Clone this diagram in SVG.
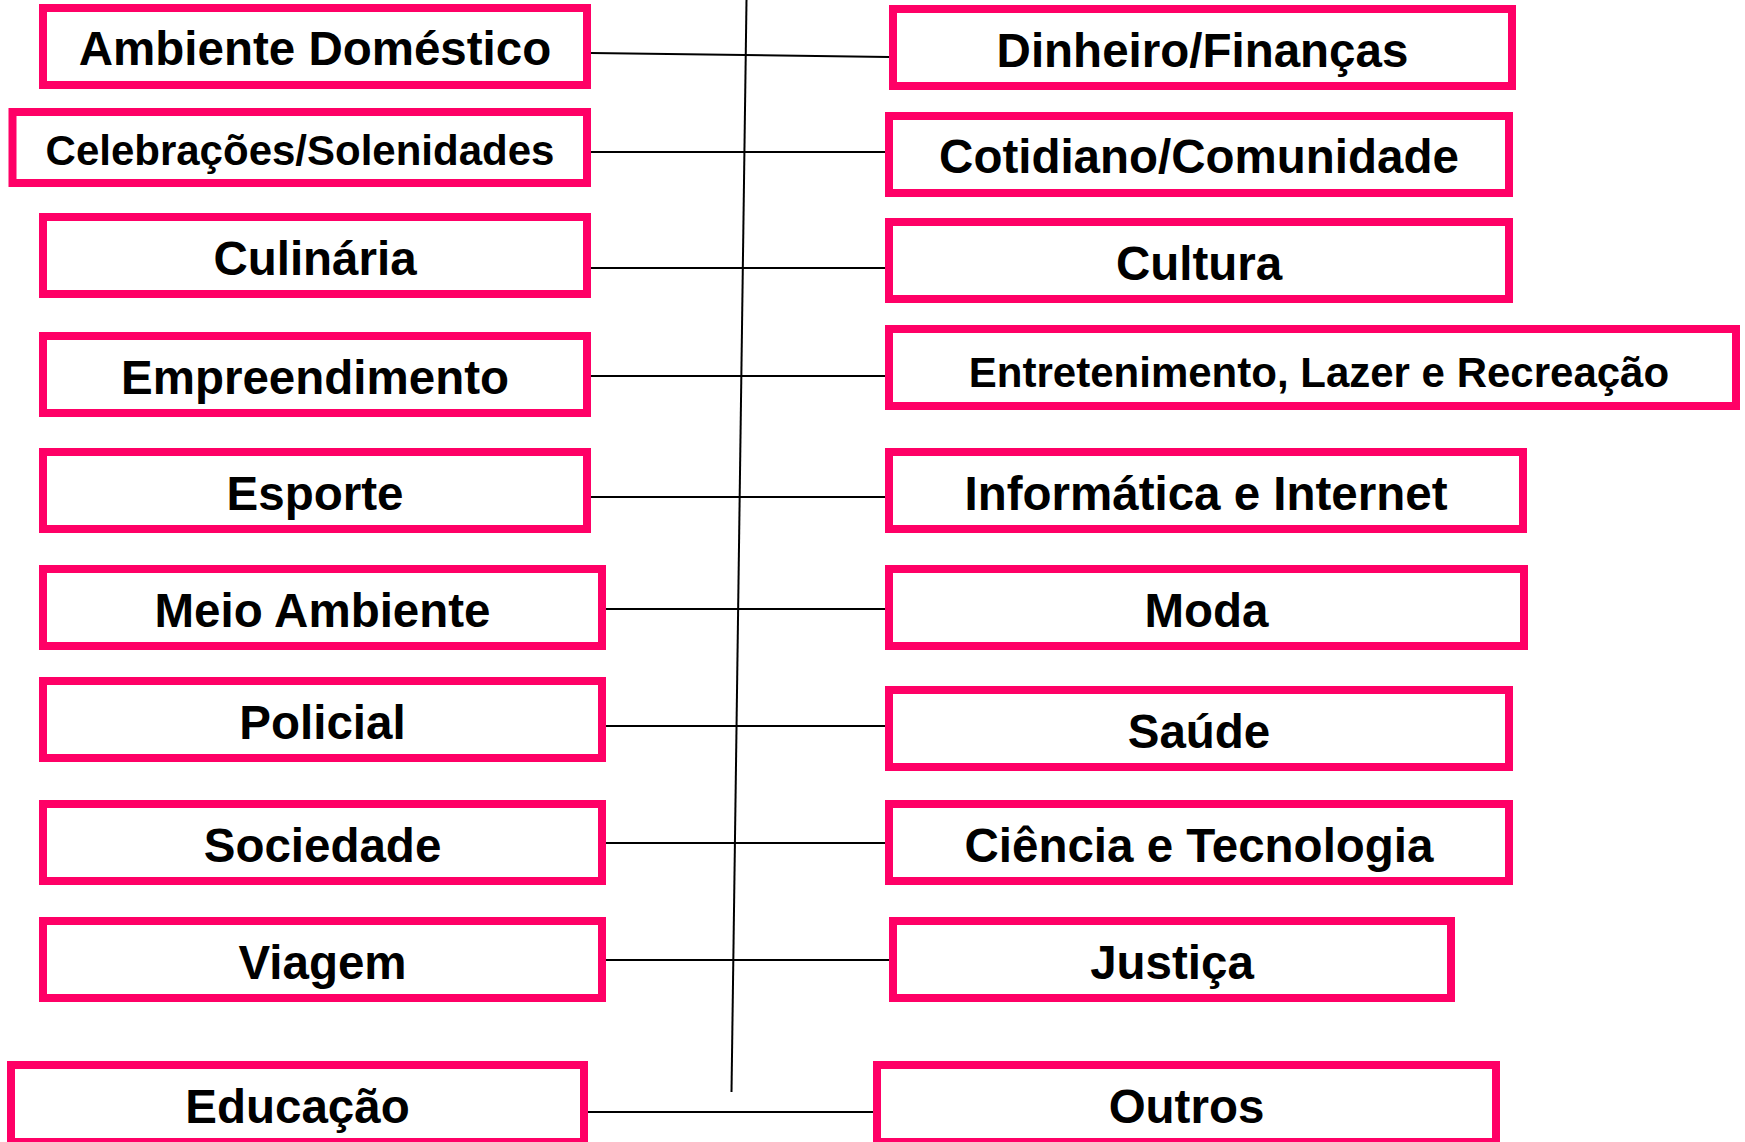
<svg xmlns="http://www.w3.org/2000/svg" width="1745" height="1142" viewBox="0 0 1745 1142">
<style>
.box{fill:#ffffff;stroke:#FF0066;stroke-width:8}
.t{font-family:"Liberation Sans",Arial,Helvetica,sans-serif;font-weight:bold;font-size:47.5px;fill:#000000;text-anchor:middle}
.s{font-size:42px}
.c{stroke:#000000;stroke-width:2;fill:none}
</style>
<rect width="1745" height="1142" fill="#ffffff"/>
<g id="connectors">
<line class="c" x1="746.5" y1="0" x2="731.5" y2="1092"/>
<line class="c" x1="591" y1="53" x2="889" y2="57"/>
<line class="c" x1="591" y1="152" x2="885" y2="152"/>
<line class="c" x1="591" y1="268" x2="885" y2="268"/>
<line class="c" x1="591" y1="376" x2="885" y2="376"/>
<line class="c" x1="591" y1="497" x2="885" y2="497"/>
<line class="c" x1="606" y1="609" x2="885" y2="609"/>
<line class="c" x1="606" y1="726" x2="885" y2="726"/>
<line class="c" x1="606" y1="843" x2="885" y2="843"/>
<line class="c" x1="606" y1="960" x2="889" y2="960"/>
<line class="c" x1="588" y1="1112" x2="873" y2="1112"/>
</g>
<g id="n-ambiente"><rect class="box" x="43" y="8" width="544" height="77"/><text class="t" x="315" y="65">Ambiente Doméstico</text></g>
<g id="n-celebracoes"><rect class="box" x="12.5" y="112" width="574.5" height="71"/><text class="t s" x="300" y="165">Celebrações/Solenidades</text></g>
<g id="n-culinaria"><rect class="box" x="43" y="217" width="544" height="77"/><text class="t" x="315" y="275">Culinária</text></g>
<g id="n-empreendimento"><rect class="box" x="43" y="336" width="544" height="77"/><text class="t" x="315" y="394">Empreendimento</text></g>
<g id="n-esporte"><rect class="box" x="43" y="452" width="544" height="77"/><text class="t" x="315" y="510">Esporte</text></g>
<g id="n-meio"><rect class="box" x="43" y="569" width="559" height="77"/><text class="t" x="322.5" y="627">Meio Ambiente</text></g>
<g id="n-policial"><rect class="box" x="43" y="681" width="559" height="77"/><text class="t" x="322.5" y="739">Policial</text></g>
<g id="n-sociedade"><rect class="box" x="43" y="804" width="559" height="77"/><text class="t" x="322.5" y="862">Sociedade</text></g>
<g id="n-viagem"><rect class="box" x="43" y="921" width="559" height="77"/><text class="t" x="322.5" y="979">Viagem</text></g>
<g id="n-educacao"><rect class="box" x="11" y="1065" width="573" height="77"/><text class="t" x="297.5" y="1123">Educação</text></g>
<g id="n-dinheiro"><rect class="box" x="893" y="9" width="619" height="77"/><text class="t" x="1202.5" y="67">Dinheiro/Finanças</text></g>
<g id="n-cotidiano"><rect class="box" x="889" y="116" width="620" height="77"/><text class="t" x="1199" y="173">Cotidiano/Comunidade</text></g>
<g id="n-cultura"><rect class="box" x="889" y="222" width="620" height="77"/><text class="t" x="1199" y="280">Cultura</text></g>
<g id="n-entretenimento"><rect class="box" x="889" y="329" width="847" height="77"/><text class="t s" x="1319" y="387">Entretenimento, Lazer e Recreação</text></g>
<g id="n-informatica"><rect class="box" x="889" y="452" width="634" height="77"/><text class="t" x="1206" y="510">Informática e Internet</text></g>
<g id="n-moda"><rect class="box" x="889" y="569" width="635" height="77"/><text class="t" x="1206.5" y="627">Moda</text></g>
<g id="n-saude"><rect class="box" x="889" y="690" width="620" height="77"/><text class="t" x="1199" y="748">Saúde</text></g>
<g id="n-ciencia"><rect class="box" x="889" y="804" width="620" height="77"/><text class="t" x="1199" y="862">Ciência e Tecnologia</text></g>
<g id="n-justica"><rect class="box" x="893" y="921" width="558" height="77"/><text class="t" x="1172" y="979">Justiça</text></g>
<g id="n-outros"><rect class="box" x="877" y="1065" width="619" height="77"/><text class="t" x="1186.5" y="1123">Outros</text></g>
</svg>
